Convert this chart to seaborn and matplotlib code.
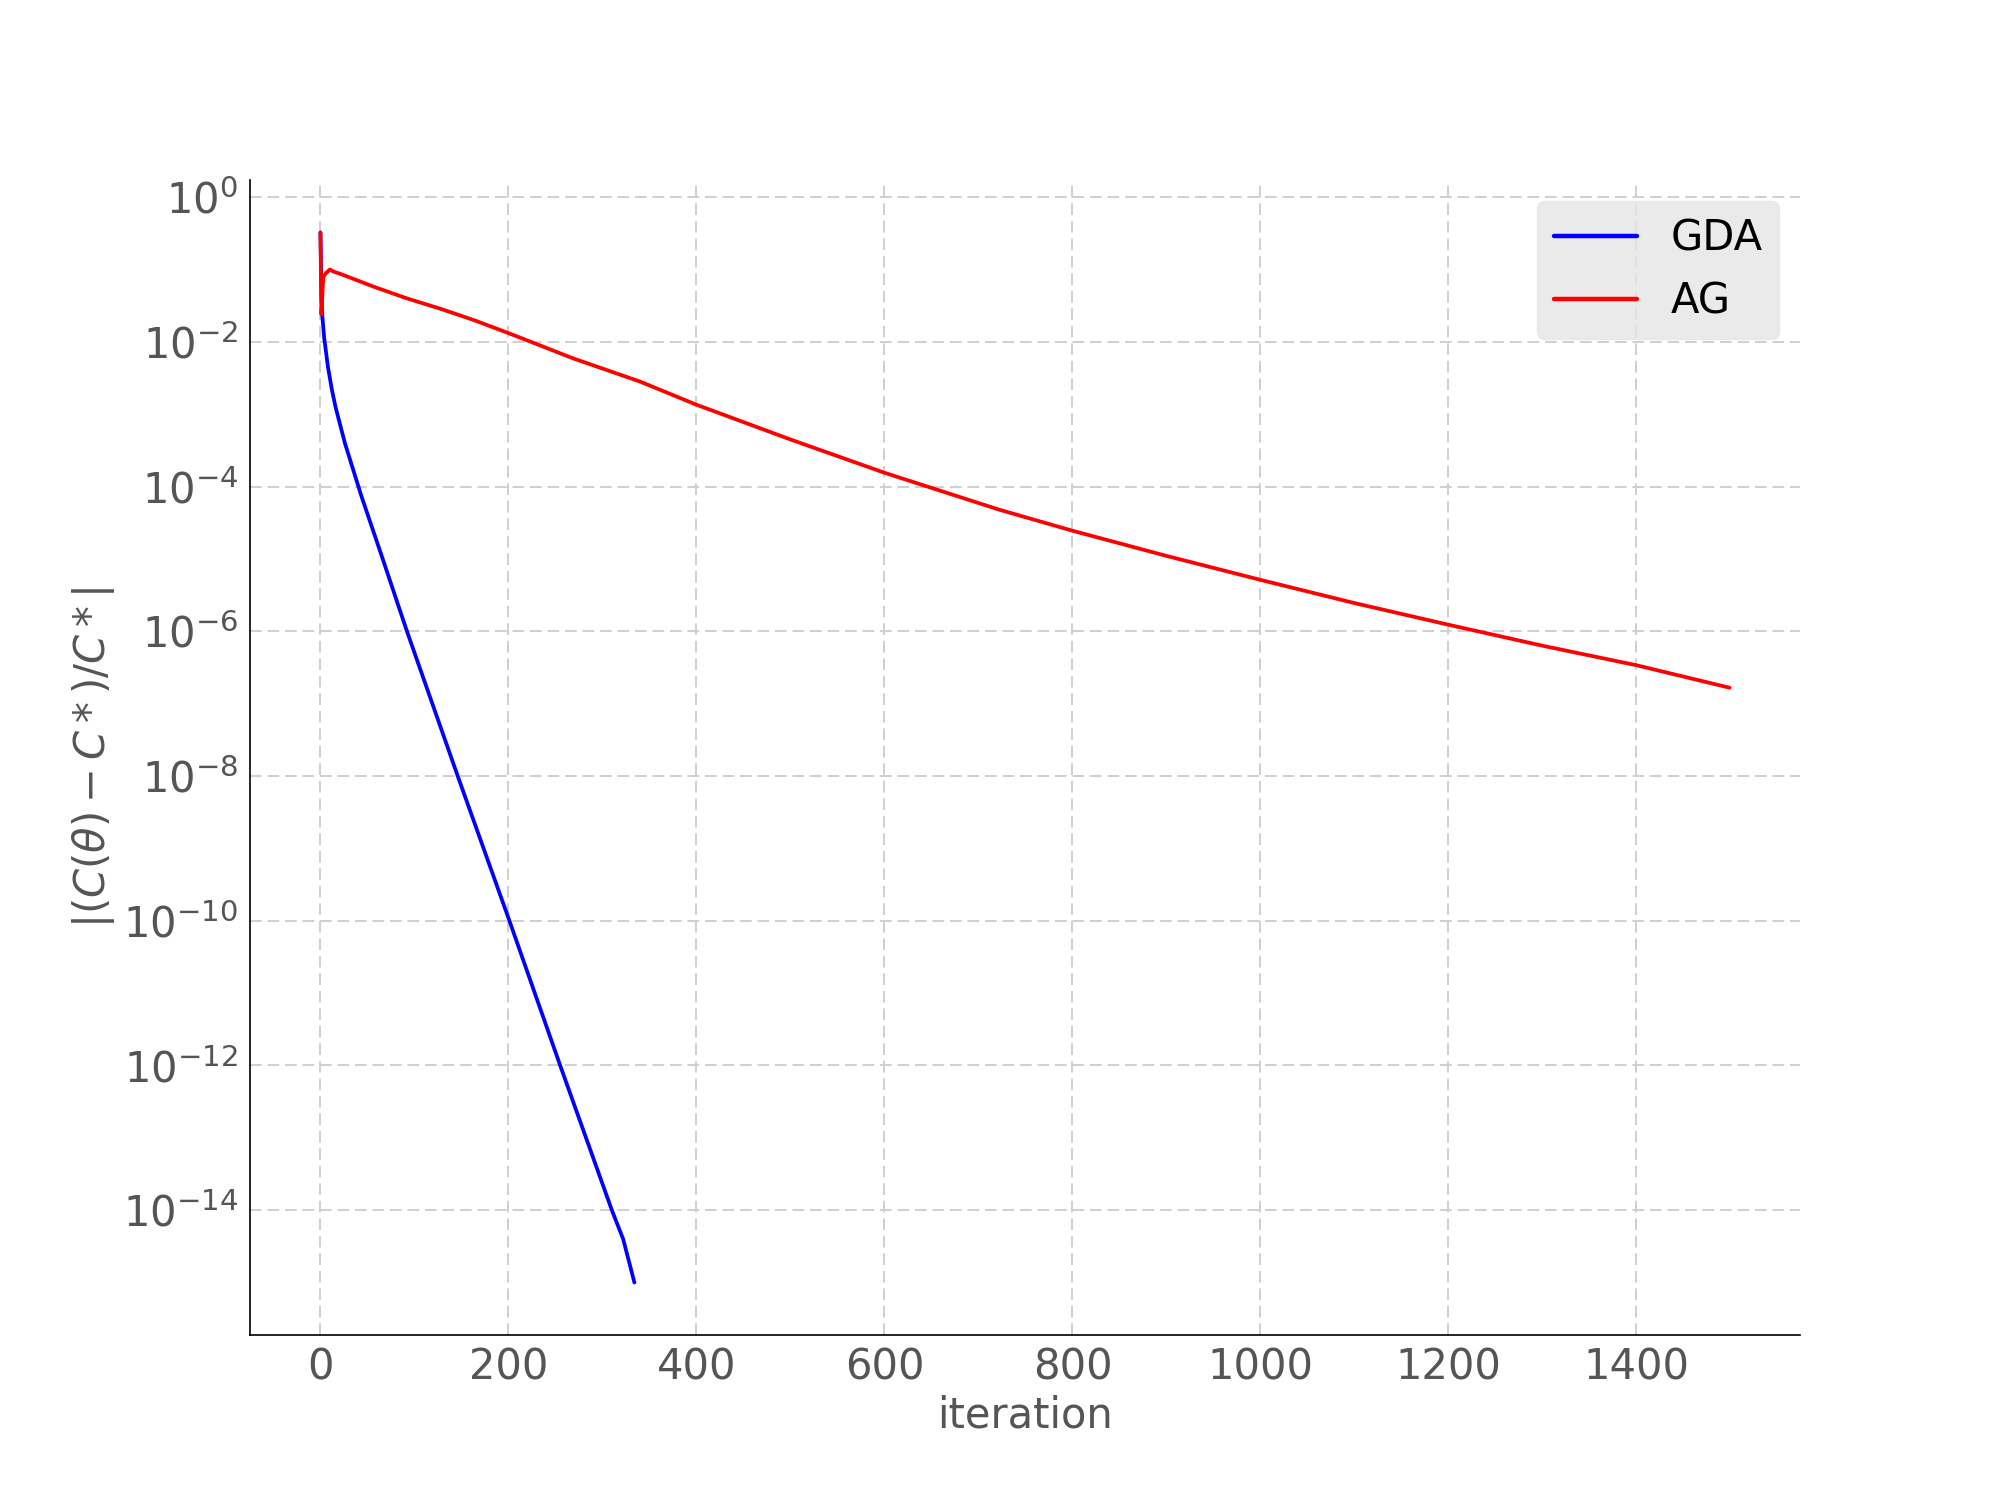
import numpy as np
import pandas as pd
import matplotlib
matplotlib.use("Agg")
import matplotlib.pyplot as plt
import seaborn as sns

# values (relative error per iteration)
gda_iter = [0, 1, 2, 4, 8, 12, 16, 21, 26, 32, 43, 55, 67, 92, 146, 201, 255, 310,
            322, 329, 331, 334]
gda_err = [3.24e-1, 5.0e-2, 2.24e-2, 1.12e-2, 4.47e-3, 2.24e-3, 1.26e-3, 7.08e-4,
           3.98e-4, 2.24e-4, 7.76e-5, 2.69e-5, 9.33e-6, 1.0e-6, 1.0e-8, 1.0e-10,
           1.0e-12, 1.0e-14, 3.98e-15, 1.78e-15, 1.41e-15, 1.0e-15]

ag_iter = [0, 1, 3, 6, 10, 14, 21, 57, 92, 127, 163, 200, 269, 340, 400, 500, 600,
           722, 800, 900, 1000, 1100, 1200, 1300, 1400, 1499]
ag_err = [3.24e-1, 2.40e-2, 7.94e-2, 8.91e-2, 1.00e-1, 9.33e-2, 8.71e-2, 5.75e-2,
          3.98e-2, 2.88e-2, 2.00e-2, 1.32e-2, 5.89e-3, 2.82e-3, 1.35e-3, 4.47e-4,
          1.55e-4, 4.79e-5, 2.45e-5, 1.10e-5, 5.13e-6, 2.45e-6, 1.23e-6, 6.31e-7,
          3.39e-7, 1.66e-7]

yticks = [1e0, 1e-2, 1e-4, 1e-6, 1e-8, 1e-10, 1e-12, 1e-14]

df = pd.concat([
    pd.DataFrame({"iteration": gda_iter, "err": gda_err, "method": "GDA"}),
    pd.DataFrame({"iteration": ag_iter, "err": ag_err, "method": "AG"}),
])

sns.set_style("white")
plt.rcParams["font.family"] = ["DejaVu Sans"]

fig, ax = plt.subplots(figsize=(20, 15), dpi=100)

sns.lineplot(data=df, x="iteration", y="err", hue="method",
             palette={"GDA": "#0000ff", "AG": "#ff0000"},
             linewidth=2.7, sort=False, estimator=None, ax=ax)
ax.set_yscale("log")
ax.set_yticks(yticks)
ax.yaxis.set_minor_locator(matplotlib.ticker.NullLocator())
ax.set_xticks([0, 200, 400, 600, 800, 1000, 1200, 1400])

ax.grid(True, color="#cfcfcf", linestyle=(0, (6, 3)), linewidth=1.4)
for side in ["top", "right"]:
    ax.spines[side].set_visible(False)
for side in ["left", "bottom"]:
    ax.spines[side].set_color("black")
    ax.spines[side].set_linewidth(1.2)

ax.tick_params(axis="both", colors="#555555", labelsize=30, length=5, width=1)
ax.set_xlabel("iteration", fontsize=30, color="#555555")
ax.set_ylabel(r"$|(C(\theta)-C*)/C*|$", fontsize=30, color="#555555")

leg = ax.legend(loc="upper right", fontsize=30, frameon=True, fancybox=True,
                facecolor="#e5e5e5", edgecolor="#e5e5e5", framealpha=0.8,
                borderaxespad=0.5)
for text in leg.get_texts():
    text.set_color("black")
for line in leg.get_lines():
    line.set_linewidth(3.2)

fig.savefig("out.png", dpi=100)
